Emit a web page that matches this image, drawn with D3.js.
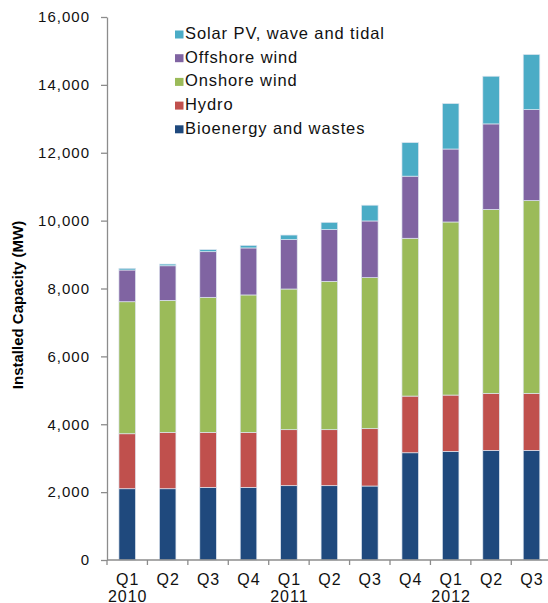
<!DOCTYPE html>
<html>
<head>
<meta charset="utf-8">
<script src="https://cdn.jsdelivr.net/npm/d3@7"></script>
<style>
  html, body { margin: 0; padding: 0; background: #fff; }
  svg { display: block; font-family: "Liberation Sans", Arial, sans-serif; }
</style>
</head>
<body>
<svg id="chart" width="548" height="603"></svg>
<script>
// Quarterly installed renewable capacity (MW), 2010 Q1 – 2012 Q3
const quarters = ["Q1", "Q2", "Q3", "Q4", "Q1", "Q2", "Q3", "Q4", "Q1", "Q2", "Q3"];
const years = ["2010", "", "", "", "2011", "", "", "", "2012", "", ""];

const bioenergy = [2100, 2100, 2140, 2140, 2190, 2190, 2180, 3160, 3200, 3230, 3230];
const hydro     = [1620, 1660, 1620, 1620, 1650, 1650, 1690, 1670, 1660, 1680, 1680];
const onshore   = [3890, 3890, 3980, 4050, 4145, 4370, 4450, 4650, 5100, 5420, 5680];
const offshore  = [935, 1020, 1345, 1385, 1455, 1525, 1670, 1830, 2150, 2520, 2680];
const solar     = [50, 50, 60, 75, 135, 215, 465, 990, 1340, 1405, 1625];

const seriesNames = ["Bioenergy and wastes", "Hydro", "Onshore wind", "Offshore wind", "Solar PV, wave and tidal"];
const seriesColors = ["#1F497D", "#C0504D", "#9BBB59", "#8064A2", "#4BACC6"];
const legendNames = ["Solar PV, wave and tidal", "Offshore wind", "Onshore wind", "Hydro", "Bioenergy and wastes"];

const yTicks = [0, 2000, 4000, 6000, 8000, 10000, 12000, 14000, 16000];

// Build rows for d3.stack
const keys = seriesNames;
const columns = [bioenergy, hydro, onshore, offshore, solar];
const rows = quarters.map((q, i) => {
  const r = { idx: i };
  keys.forEach((k, j) => { r[k] = columns[j][i]; });
  return r;
});

const svg = d3.select("#chart");
const plotLeft = 107, plotBottom = 560, plotTop = 17;

const x = d3.scaleBand()
  .domain(d3.range(quarters.length))
  .range([plotLeft, plotLeft + 40.43 * quarters.length])
  .paddingInner(0.59)
  .paddingOuter(0.295);

const y = d3.scaleLinear().domain([0, 16000]).range([plotBottom, plotTop]);
const color = d3.scaleOrdinal().domain(seriesNames).range(seriesColors);

const stacked = d3.stack().keys(keys)(rows);

// Bars
svg.append("g")
  .selectAll("g")
  .data(stacked)
  .join("g")
  .attr("fill", d => color(d.key))
  .selectAll("rect")
  .data(d => d)
  .join("rect")
  .attr("x", d => x(d.data.idx))
  .attr("width", x.bandwidth())
  .attr("y", d => y(d[1]))
  .attr("height", d => y(d[0]) - y(d[1]))
  .attr("stroke", "#dfe6f0")
  .attr("stroke-width", 0.7);

const axisColor = "#8c8c8c";

// Y axis
const yAxis = svg.append("g")
  .attr("transform", `translate(${plotLeft},0)`)
  .call(d3.axisLeft(y).tickValues(yTicks).tickFormat(d3.format(",")).tickSize(6).tickSizeOuter(0).tickPadding(11));
yAxis.select(".domain").attr("stroke", axisColor).attr("stroke-width", 1.3);
yAxis.selectAll(".tick line").attr("stroke", axisColor).attr("stroke-width", 1.3);
yAxis.selectAll(".tick text")
  .attr("font-size", 15)
  .attr("letter-spacing", 1)
  .attr("fill", "#111")
  .attr("font-family", "'Liberation Sans', Arial, sans-serif");

// X axis: ticks at band boundaries
const step = x.step();
const boundaries = d3.range(quarters.length + 1).map(i => x(0) - step * x.paddingInner() / 2 + i * step);
const xg = svg.append("g");
xg.append("line")
  .attr("x1", plotLeft).attr("x2", 548)
  .attr("y1", plotBottom).attr("y2", plotBottom)
  .attr("stroke", axisColor).attr("stroke-width", 1.3);
xg.selectAll("line.tick")
  .data(boundaries)
  .join("line")
  .attr("class", "tick")
  .attr("x1", d => d).attr("x2", d => d)
  .attr("y1", plotBottom).attr("y2", plotBottom + 5)
  .attr("stroke", axisColor).attr("stroke-width", 1.3);

xg.selectAll("text.q")
  .data(quarters)
  .join("text")
  .attr("class", "q")
  .attr("x", (d, i) => x(i) + x.bandwidth() / 2 + 0.5)
  .attr("y", 585)
  .attr("text-anchor", "middle")
  .attr("font-size", 16)
  .attr("letter-spacing", 1)
  .attr("fill", "#111")
  .text(d => d);

xg.selectAll("text.yr")
  .data(years)
  .join("text")
  .attr("class", "yr")
  .attr("x", (d, i) => x(i) + x.bandwidth() / 2 + 0.5)
  .attr("y", 601.5)
  .attr("text-anchor", "middle")
  .attr("font-size", 16)
  .attr("letter-spacing", 1)
  .attr("fill", "#111")
  .text(d => d);

// Y axis title
svg.append("text")
  .attr("transform", "translate(23,305) rotate(-90)")
  .attr("text-anchor", "middle")
  .attr("font-size", 15)
  .attr("font-weight", "bold")
  .attr("fill", "#000")
  .text("Installed Capacity (MW)");

// Legend
const legend = svg.append("g");
const legendItems = legend.selectAll("g")
  .data(legendNames)
  .join("g")
  .attr("transform", (d, i) => `translate(175,${34.5 + i * 23.7})`);
legendItems.append("rect")
  .attr("x", 0).attr("y", -4)
  .attr("width", 8.5).attr("height", 8)
  .attr("fill", d => color(d));
legendItems.append("text")
  .attr("x", 10).attr("y", 4.5)
  .attr("font-size", 16.5)
  .attr("letter-spacing", 0.9)
  .attr("fill", "#111")
  .text(d => d);
</script>
</body>
</html>
